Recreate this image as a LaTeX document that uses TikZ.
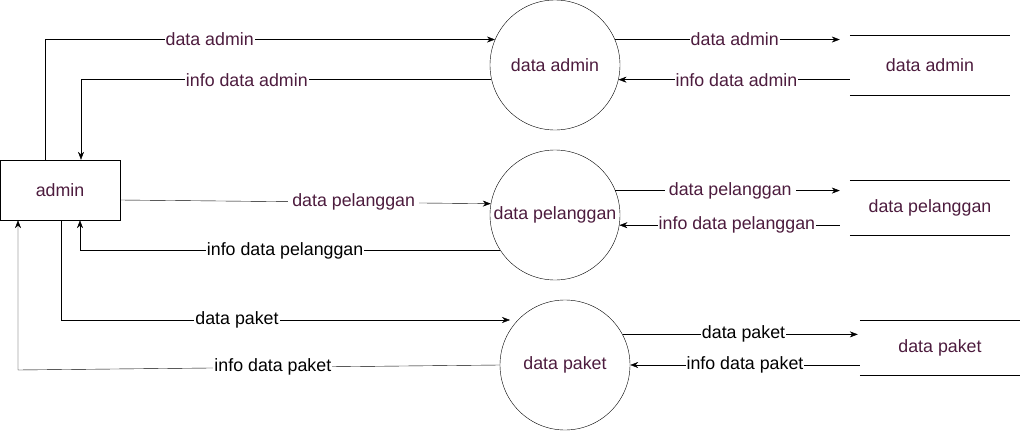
\documentclass[tikz,border=0pt]{standalone}
\usepackage{fontspec}
\setmainfont{Liberation Sans}
\usetikzlibrary{arrows.meta}
\definecolor{plum}{RGB}{77,28,62}

\begin{document}
\begin{tikzpicture}[x=1pt,y=-1pt,
  font=\fontsize{17.8}{21}\selectfont,
  every node/.style={text=plum},
  entity/.style={draw,minimum width=120pt,minimum height=60pt},
  proc/.style={draw,circle,minimum size=130pt,inner sep=0pt},
  store/.style={minimum width=160pt},
  flow/.style={-{Stealth[length=8pt,width=6pt]}},
  lbl/.style={fill=white,inner sep=1pt},
  blk/.style={lbl,text=black}]
\useasboundingbox (0,0) rectangle (1021,431);

% external entity and processes
\node[entity] (admin) at (60,190) {admin};
\node[proc] (pa) at (555,65) {data admin};
\node[proc] (pp) at (555,215) {data pelanggan};
\node[proc] (pk) at (565,365) {data paket};

% data stores
\node[store,minimum height=60pt] (sa) at (930,65) {data admin};
\node[store,minimum height=55pt] (sp) at (930,207.5) {data pelanggan};
\node[store,minimum height=55pt] (sk) at (940,347.5) {data paket};
\foreach \s in {sa,sp,sk} {
  \draw (\s.north west) -- (\s.north east);
  \draw (\s.south west) -- (\s.south east);
}

% admin <-> processes
\draw[flow] ([xshift=-15pt]admin.north) |- node[lbl,pos=0.683] {data admin} (pa.157);
\draw[flow] (pa.193) -| node[lbl,pos=0.298] {info data admin} ([xshift=21pt]admin.north);
\draw[flow] ([yshift=-10pt]admin.east) -- node[lbl,pos=0.63,inner xsep=4pt] {data pelanggan} (pp.170);
\draw[flow] (pp.213) -| node[blk,pos=0.256] {info data pelanggan} ([xshift=20pt]admin.south);
\coordinate (pkin) at (510,320);
\draw[flow] ([xshift=1pt]admin.south) |- node[blk,pos=0.696] {data paket} (pkin);
\coordinate (lb) at (18,370);
\draw[flow] (pk.west) -- node[blk,pos=0.471] {info data paket} (lb) -- ([xshift=-42pt]admin.south);

% processes <-> stores
\draw[flow,shorten >=10pt] (pa.23) -- node[lbl,pos=0.51] {data admin} (pa.23 -| sa.west);
\draw[flow] (sa.west |- pa.-13) -- node[lbl,pos=0.49] {info data admin} (pa.-13);
\draw[flow,shorten >=10pt] (pp.22) -- node[lbl,pos=0.49,inner xsep=4pt] {data pelanggan} (pp.22 -| sp.west);
\draw[flow,shorten <=10pt] (pp.-9 -| sp.west) -- node[lbl,pos=0.49] {info data pelanggan} (pp.-9);
\draw[flow,shorten >=2pt] (pk.28) -- node[blk,pos=0.51] {data paket} (pk.28 -| sk.west);
\draw[flow] (pk.east -| sk.west) -- node[blk] {info data paket} (pk.east);
\end{tikzpicture}
\end{document}
